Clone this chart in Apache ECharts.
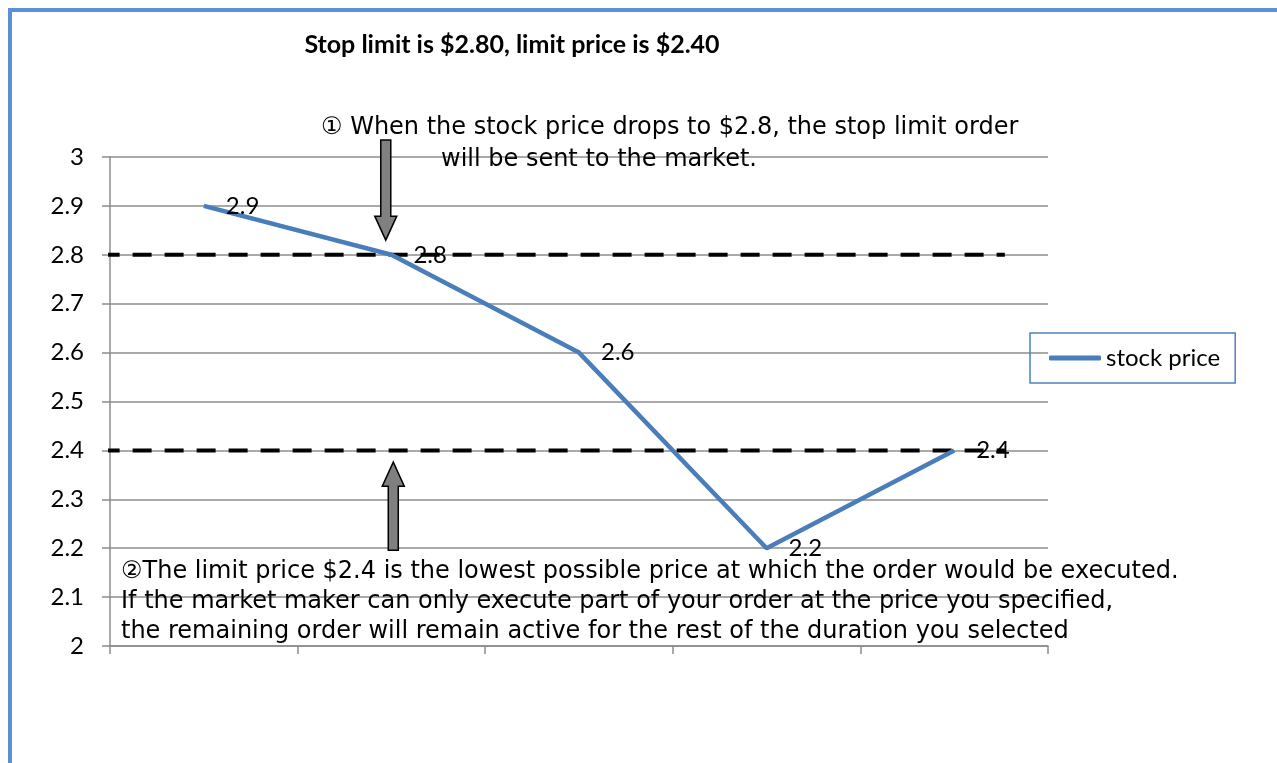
<!DOCTYPE html>
<html>
<head>
<meta charset="utf-8">
<script src="https://cdn.jsdelivr.net/npm/echarts@6/dist/echarts.min.js"></script>
<style>
  html, body { margin: 0; padding: 0; background: #fff; }
  #main { width: 1277px; height: 763px; }
</style>
</head>
<body>
<div id="main"></div>
<script>
  // chart data
  const categories = ['1', '2', '3', '4', '5'];
  const stockPrice = [2.9, 2.8, 2.6, 2.2, 2.4];
  const yTicks = { min: 2, max: 3, step: 0.1 };

  // reference levels (dashed lines), position along a hidden value x axis (0..5)
  const stopLimit = 2.8;
  const limitPrice = 2.4;
  const levelFromX = -0.05;
  const levelToX = 4.77;

  // arrows: [x, yFrom, yTo]
  const arrows = [
    [1.47, 3.035, 2.83],
    [1.51, 2.196, 2.376]
  ];

  const chart = echarts.init(document.getElementById('main'));

  const labelFont = 'Lato, "Open Sans", sans-serif';
  const noteFont = '"DejaVu Sans", Verdana, sans-serif';

  const option = {
    animation: false,
    backgroundColor: '#fff',
    grid: { left: 110, right: 229, top: 157, bottom: 117 },
    legend: {
      left: 1030,
      top: 333,
      orient: 'vertical',
      data: [{ name: 'stock price', icon: 'roundRect' }],
      borderColor: '#4f81bd',
      borderWidth: 1.5,
      padding: [13, 15, 13, 19],
      itemWidth: 52,
      itemHeight: 5,
      itemGap: 7,
      textStyle: { fontFamily: labelFont, fontSize: 24, color: '#000' }
    },
    xAxis: [
      {
        type: 'category',
        data: categories,
        boundaryGap: true,
        axisLine: { lineStyle: { color: '#8c8c8c', width: 1.5 } },
        axisTick: { show: true, length: 8, lineStyle: { color: '#8c8c8c', width: 1.5 } },
        axisLabel: { show: false }
      },
      {
        type: 'value',
        min: 0,
        max: 5,
        show: false
      }
    ],
    yAxis: {
      type: 'value',
      min: yTicks.min,
      max: yTicks.max,
      interval: yTicks.step,
      axisLine: { show: true, lineStyle: { color: '#8c8c8c', width: 1.5 } },
      axisTick: { show: true, length: 8, lineStyle: { color: '#8c8c8c', width: 1.5 } },
      splitLine: { lineStyle: { color: '#8c8c8c', width: 1.5 } },
      axisLabel: {
        margin: 26,
        fontFamily: labelFont,
        fontSize: 24,
        color: '#000',
        formatter: v => String(Math.round(v * 10) / 10)
      }
    },
    series: [
      {
        name: 'stock price',
        type: 'line',
        data: stockPrice,
        symbol: 'circle',
        symbolSize: 0,
        showSymbol: true,
        z: 3,
        lineStyle: { color: '#4a7ebb', width: 4.5 },
        itemStyle: { color: '#4a7ebb' },
        label: {
          show: true,
          position: 'right',
          distance: 22,
          fontFamily: labelFont,
          fontSize: 24,
          color: '#000'
        }
      },
      {
        name: 'stop',
        type: 'line',
        xAxisIndex: 1,
        data: [[levelFromX, stopLimit], [levelToX, stopLimit]],
        symbol: 'none',
        clip: false,
        silent: true,
        z: 2,
        lineStyle: { color: '#000', width: 4, type: [19, 13] }
      },
      {
        name: 'limit',
        type: 'line',
        xAxisIndex: 1,
        data: [[levelFromX, limitPrice], [levelToX, limitPrice]],
        symbol: 'none',
        clip: false,
        silent: true,
        z: 2,
        lineStyle: { color: '#000', width: 4, type: [19, 13] }
      },
      {
        name: 'arrows',
        type: 'custom',
        xAxisIndex: 1,
        data: arrows,
        z: 4,
        renderItem: function (params, api) {
          const a = api.coord([api.value(0), api.value(1)]);
          const b = api.coord([api.value(0), api.value(2)]);
          const dir = b[1] > a[1] ? 1 : -1;
          const x = a[0];
          const shaft = 5, head = 11, headLen = 24;
          const hb = b[1] - dir * headLen;
          return {
            type: 'polygon',
            shape: {
              points: [
                [x - shaft, a[1]], [x + shaft, a[1]], [x + shaft, hb],
                [x + head, hb], [x, b[1]], [x - head, hb], [x - shaft, hb]
              ]
            },
            style: { fill: '#808080', stroke: '#000', lineWidth: 1.5 }
          };
        }
      }
    ],
    graphic: [
      {
        type: 'rect',
        silent: true,
        shape: { x: 10, y: 10, width: 1320, height: 820 },
        style: { fill: null, stroke: '#5b8fd6', lineWidth: 4 }
      },
      {
        type: 'text',
        x: 512, y: 45,
        style: {
          text: 'Stop limit is $2.80, limit price is $2.40',
          font: 'bold 25px ' + labelFont,
          fill: '#000',
          textAlign: 'center',
          textVerticalAlign: 'middle'
        }
      },
      {
        type: 'text',
        x: 321, y: 128,
        z: 10,
        style: {
          text: '\u2460 When the stock price drops to $2.8, the stop limit order',
          font: '24px ' + noteFont,
          fill: '#000',
          textAlign: 'left',
          textVerticalAlign: 'middle'
        }
      },
      {
        type: 'text',
        x: 441, y: 160,
        z: 10,
        style: {
          text: 'will be sent to the market.',
          font: '24px ' + noteFont,
          fill: '#000',
          textAlign: 'left',
          textVerticalAlign: 'middle'
        }
      },
      {
        type: 'text',
        x: 121, y: 557,
        z: 10,
        style: {
          text: '\u2461The limit price $2.4 is the lowest possible price at which the order would be executed.\nIf the market maker can only execute part of your order at the price you specified,\nthe remaining order will remain active for the rest of the duration you selected',
          font: '24px ' + noteFont,
          fill: '#000',
          textAlign: 'left',
          lineHeight: 30
        }
      }
    ]
  };

  chart.setOption(option);
</script>
</body>
</html>
